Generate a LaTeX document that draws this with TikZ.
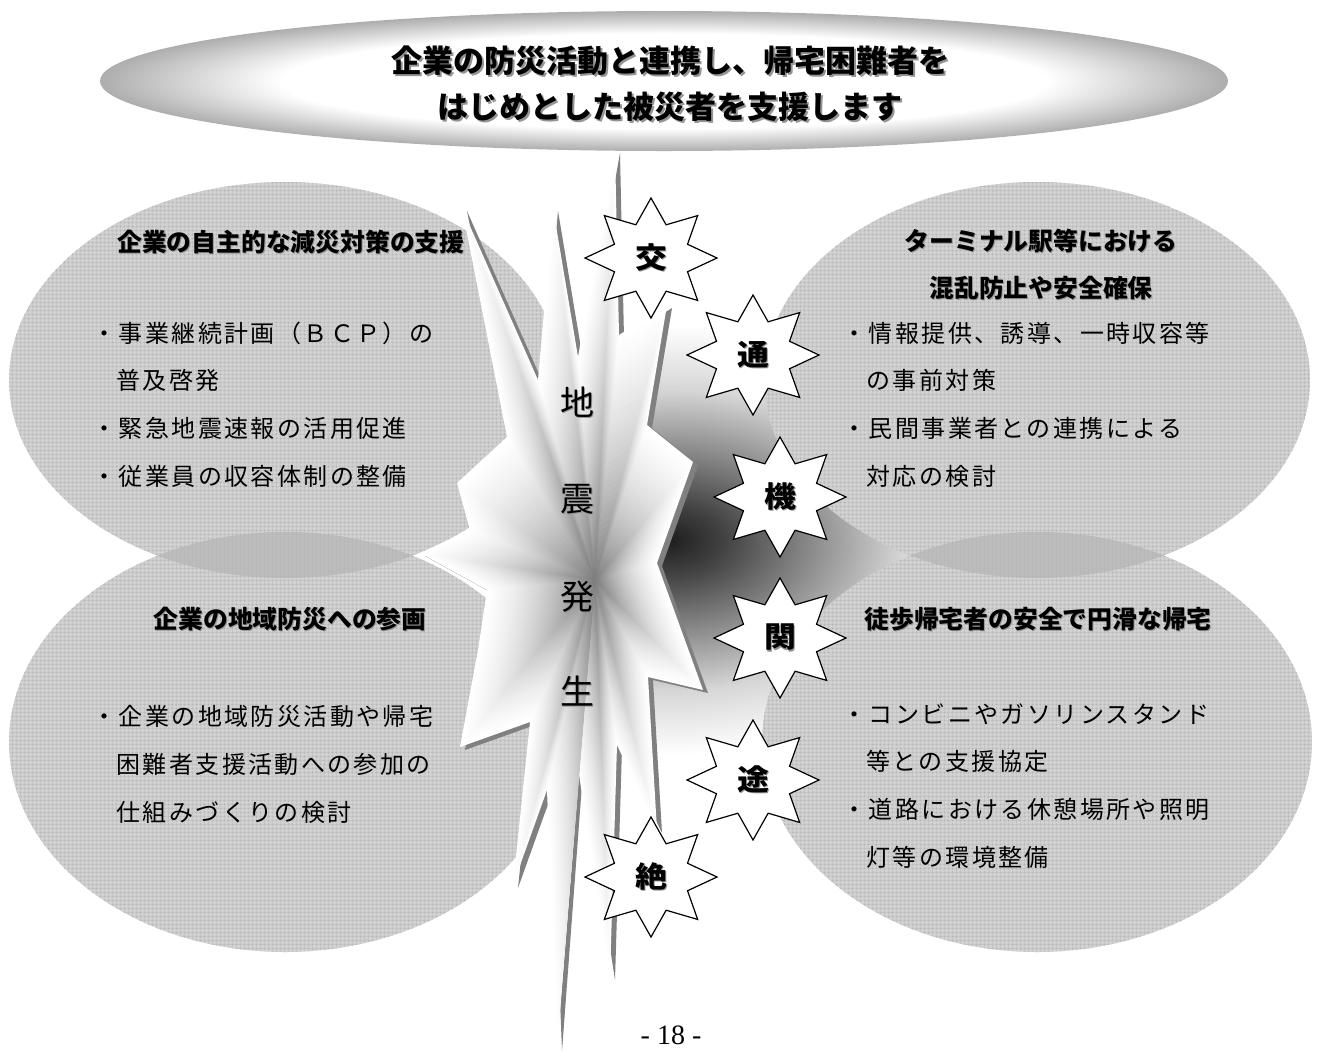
\documentclass[tikz,border=0pt]{standalone}
\usepackage{fontspec}
\setmainfont{Liberation Serif}
\newfontfamily\jp{Noto Sans CJK JP}
\newfontfamily\jpsp{Noto Sans CJK JP}[LetterSpace=10]
\usetikzlibrary{shapes.geometric,patterns.meta}

% fine checker texture of the topic ellipses
\tikzdeclarepattern{
  name=finegrid,
  type=uncolored,
  bounding box={(0pt,0pt) and (1.8pt,1.8pt)},
  tile size={(1.8pt,1.8pt)},
  code={\draw[line width=0.3pt] (0pt,0.9pt) -- (1.8pt,0.9pt) (0.9pt,0pt) -- (0.9pt,1.8pt);}
}

% the path's bounding box edge lies at 25bp in these shadings
\pgfdeclareradialshading{titleglow}{\pgfpoint{0bp}{0bp}}{%
  color(0bp)=(white); color(17bp)=(white); color(25bp)=(black!32); color(50bp)=(black!32)}
\pgfdeclareradialshading{darkglow}{\pgfpoint{0bp}{0bp}}{%
  color(0bp)=(black!88); color(4bp)=(black!74); color(10bp)=(black!48);
  color(17.5bp)=(black!16); color(25bp)=(white); color(50bp)=(white)}

% text with a soft grey drop shadow
\newcommand\txtshadow[2]{\leavevmode\rlap{\kern#1\raisebox{-#1}{\color{black!42}#2}}#2}

% outline of the explosion, relative to its centre
\def\burstpath{(20,-430) -- (24,-245) -- (72,-275) -- (52,-155) -- (98,-118)
  -- (62,-17) -- (108,110) -- (53,97) -- (62,250) -- (22,165) -- (15,397)
  -- (-17,188) -- (-38,468) -- (-48,210) -- (-82,305) -- (-65,142)
  -- (-135,167) -- (-117,70) -- (-108,10) -- (-175,-27) -- (-125,-50)
  -- (-138,-97) -- (-88,-143) -- (-133,-372) -- (-57,-200) -- (-42,-372)
  -- (-17,-223) -- cycle}

\begin{document}
\begin{tikzpicture}[x=0.5pt,y=-0.5pt,
  topicfill/.style={fill=black!18},
  lensfill/.style={fill=black!26},
  gridtex/.style={pattern={finegrid}, pattern color=black!28},
  heading/.style={font=\jp\bfseries\fontsize{12.4}{23.8}\selectfont, inner sep=0pt, align=center},
  body/.style={font=\jpsp\fontsize{12}{23.8}\selectfont, inner sep=0pt, align=left, anchor=base west},
  quake/.style={font=\jp\fontsize{17}{17}\selectfont, inner sep=0pt},
  kstar/.style={star, star points=8, star point ratio=1.67, minimum size=60pt,
    inner sep=0pt, draw=black, line width=0.6pt, fill=white,
    transform shape, xscale=1.1, font=\jp\bfseries\fontsize{14.5}{14.5}\selectfont},
  titletext/.style={font=\jp\bfseries\fontsize{15.5}{23}\selectfont, inner sep=0pt, align=center}
]
\useasboundingbox (0,0) rectangle (1324,1051);

% dark glow spreading to the right of the explosion
\begin{scope}
  \clip (612,345) -- (667,300) -- (790,240) -- (1010,400) -- (1010,720)
        -- (790,880) -- (640,800) -- cycle;
  \shade[shading=darkglow] (335,325) rectangle (1005,755);
\end{scope}

% right topic ellipses
\fill[topicfill] (1037,380) ellipse [x radius=273, y radius=198];
\fill[topicfill] (1037,742) ellipse [x radius=275, y radius=210];
\begin{scope}
  \clip (1037,380) ellipse [x radius=273, y radius=198];
  \fill[lensfill] (1037,742) ellipse [x radius=275, y radius=210];
\end{scope}
\fill[gridtex] (1037,380) ellipse [x radius=273, y radius=198];
\fill[gridtex] (1037,742) ellipse [x radius=275, y radius=210];

% left topic ellipses
\fill[topicfill] (285,380) ellipse [x radius=276, y radius=198];
\fill[topicfill] (285,742) ellipse [x radius=276, y radius=210];
\begin{scope}
  \clip (285,380) ellipse [x radius=276, y radius=198];
  \fill[lensfill] (285,742) ellipse [x radius=276, y radius=210];
\end{scope}
\fill[gridtex] (285,380) ellipse [x radius=276, y radius=198];
\fill[gridtex] (285,742) ellipse [x radius=276, y radius=210];

% explosion: shadow, then nested copies darkening towards the centre
\fill[black!50, shift={(600,583)}] \burstpath;
\foreach \i in {0,...,39}{
  \pgfmathsetmacro\s{1-\i/40}
  \pgfmathsetmacro\k{52*(\i/40)*(0.4+0.6*\i/40)}
  \fill[black!\k, shift={(595,580)}, scale=\s] \burstpath;
}

% earthquake caption
\node[quake] (q1) at (577,403) {\txtshadow{0.5pt}{地}};
\node[quake] (q2) at (577,500) {\txtshadow{0.5pt}{震}};
\node[quake] (q3) at (577,597) {\txtshadow{0.5pt}{発}};
\node[quake] (q4) at (577,692) {\txtshadow{0.5pt}{生}};

% topic texts (body nodes are placed by the baseline of their last line)
\node[heading] (h1) at (291,243) {\txtshadow{0.5pt}{企業の自主的な減災対策の支援}};
\node[body] (b1) at (92,485) {・事業継続計画（ＢＣＰ）の\\\phantom{・}普及啓発\\・緊急地震速報の活用促進\\・従業員の収容体制の整備};

\node[heading] (h2) at (290,620) {\txtshadow{0.5pt}{企業の地域防災への参画}};
\node[body] (b2) at (92,821) {・企業の地域防災活動や帰宅\\\phantom{・}困難者支援活動への参加の\\\phantom{・}仕組みづくりの検討};

\node[heading] (h3) at (1041,265) {\txtshadow{0.5pt}{ターミナル駅等における}\\\txtshadow{0.5pt}{混乱防止や安全確保}};
\node[body] (b3) at (842,485) {・情報提供、誘導、一時収容等\\\phantom{・}の事前対策\\・民間事業者との連携による\\\phantom{・}対応の検討};

\node[heading] (h4) at (1038,620) {\txtshadow{0.5pt}{徒歩帰宅者の安全で円滑な帰宅}};
\node[body] (b4) at (842,866) {・コンビニやガソリンスタンド\\\phantom{・}等との支援協定\\・道路における休憩場所や照明\\\phantom{・}灯等の環境整備};

% headline ellipse
\shade[shading=titleglow] (664,81) ellipse [x radius=564, y radius=70];
\node[titletext] (title) at (670,85) {\txtshadow{1.1pt}{企業の防災活動と連携し、帰宅困難者を}\\\txtshadow{1.1pt}{はじめとした被災者を支援します}};

% the six stars spelling the transport paralysis
\node[kstar] (s1) at (651,258) {\txtshadow{0.6pt}{交}};
\node[kstar] (s2) at (753,355) {\txtshadow{0.6pt}{通}};
\node[kstar] (s3) at (780,497) {\txtshadow{0.6pt}{機}};
\node[kstar] (s4) at (780,638) {\txtshadow{0.6pt}{関}};
\node[kstar] (s5) at (753,780) {\txtshadow{0.6pt}{途}};
\node[kstar] (s6) at (651,877) {\txtshadow{0.6pt}{絶}};

% page number
\node[font=\fontsize{14}{14}\selectfont, inner sep=0pt] (pg) at (671,1035) {- 18 -};
\end{tikzpicture}
\end{document}
